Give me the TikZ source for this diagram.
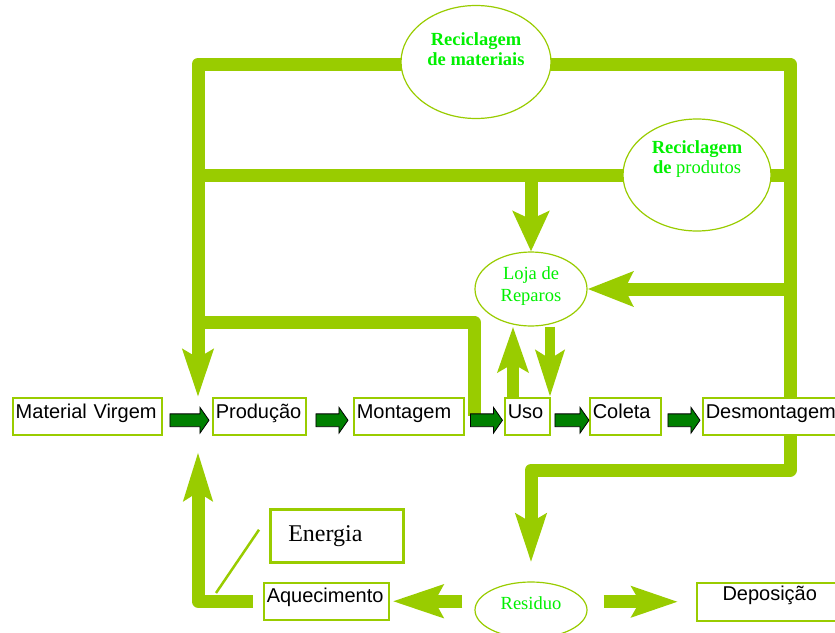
\documentclass[tikz,border=0pt]{standalone}
\usepackage{fontspec}
\setmainfont{Liberation Serif}
\setsansfont{Liberation Sans}
\usetikzlibrary{arrows.meta,shapes.geometric,shapes.arrows,calc}
\definecolor{lime}{RGB}{153,204,0}
\definecolor{leaf}{RGB}{0,240,0}
\definecolor{darkleaf}{RGB}{0,128,0}
\pgfdeclarelayer{back}
\pgfsetlayers{back,main}

\begin{document}
\begin{tikzpicture}[x=1pt,y=-1pt,
  flow/.style={draw=lime, line width=13pt, line join=round},
  head/.style 2 args={-{Stealth[length=#1, width=#2, inset=8pt]}},
  stage/.style={draw=lime, line width=1.5pt, fill=white, anchor=north west,
    inner xsep=3pt, inner ysep=0pt, align=left,
    font=\sffamily\fontsize{20}{22}\selectfont, text height=21pt, text depth=16pt},
  ring/.style={ellipse, draw=lime, line width=1.2pt, fill=white, inner sep=0pt},
  lab/.style={text=leaf, align=center, inner sep=0pt},
  blk/.style={single arrow, draw=black, fill=darkleaf, line width=0.8pt,
    minimum height=32pt, inner xsep=0pt, inner ysep=6pt, single arrow head extend=6.5pt,
    single arrow tip angle=110, yshift=-4pt},
  tie/.style={draw=lime, line width=2.5pt}
]
\useasboundingbox (0,0) rectangle (835,632);
\clip (0,0) rectangle (835,632);

% process stages
\node[stage, text width=143pt] (mv) at (12,397) {Material Virgem};
\node[stage, text width=87pt] (prod) at (212,397) {Produção};
\node[stage, text width=104pt] (mont) at (353,397) {Montagem};
\node[stage, text width=39pt] (uso) at (504,397) {Uso};
\node[stage, text width=65pt] (col) at (589,397) {Coleta};
\node[stage, text width=144pt] (desm) at (702,397) {Desmontagem};
\node[stage, text width=119pt, text height=20pt, text depth=17pt] (aq) at (263,582) {Aquecimento};
\node[stage, text width=140pt, align=center, text height=18pt, text depth=20pt] (dep) at (696,582) {Deposição};
\node[stage, line width=2.5pt, inner xsep=18pt, text width=97pt,
  font=\fontsize{24}{26}\selectfont, text height=32pt, text depth=21pt] (en) at (269,508) {Energia};

% recovery loops
\node[ring, minimum width=150pt, minimum height=113pt] (rm) at (476,62) {};
\node[lab, font=\bfseries\fontsize{18.5}{20}\selectfont] (rm-t) at ([yshift=13pt]rm.center) {Reciclagem\\de materiais};
\node[ring, minimum width=148pt, minimum height=112pt] (rp) at (697,175) {};
\node[lab, font=\fontsize{18.5}{20}\selectfont] (rp-t) at ([yshift=16pt]rp.center) {\textbf{Reciclagem}\\\textbf{de} produtos};
\node[ring, minimum width=112pt, minimum height=74pt] (loja) at (531,289) {};
\node[lab, font=\fontsize{18.5}{22}\selectfont] (loja-t) at ([yshift=3pt]loja.center) {Loja de\\Reparos};
\node[ring, minimum width=112pt, minimum height=56pt] (res) at (531,610) {};
\node[lab, font=\fontsize{18.5}{20}\selectfont] (res-t) at ([yshift=7pt]res.center) {Residuo};

% forward chain
\path (mv.east) -- (prod.west) node[midway, blk, minimum height=39pt] {};
\path (prod.east) -- (mont.west) node[midway, blk] {};
\path (mont.east) -- (uso.west) node[midway, blk] {};
\path (uso.east) -- (col.west) node[midway, blk, minimum height=34pt] {};
\path (col.east) -- (desm.west) node[midway, blk] {};

\begin{pgfonlayer}{back}
\coordinate (tl) at (198,64);
\coordinate (tr) at (790,64);
\coordinate (br) at (790,470);
\coordinate (c1) at (198,322);
\coordinate (c2) at (474,322);
\coordinate (xup) at (513,0);
\coordinate (xdn) at (550,0);
\coordinate (up) at (198,452);
\coordinate (ej) at (216,593);

\draw[flow, head={47pt}{30pt}] (desm.north -| tr) -- (tr) -- (tl) -- (prod.north -| tl);
\draw[flow] (tr |- rp) -- (tl |- rp);
\draw[flow, head={40pt}{36pt}] (loja.north |- rp) -- (loja.north);
\draw[flow] (c1) -- (c2) -- (c2 |- uso.west);
\draw[flow, head={45pt}{34pt}] (tr |- loja) -- (loja.east);
\draw[flow, line width=12pt, head={45pt}{30pt}] (uso.north -| xup) -- (loja.south -| xup);
\draw[flow, line width=10pt, head={46pt}{28pt}] (loja.south -| xdn) -- (uso.north -| xdn);
\draw[flow, head={48pt}{30pt}, shorten >=19pt] (desm.south -| tr) -- (br) -| (res.north);
\draw[flow, head={50pt}{32pt}, shorten <=12pt, shorten >=3pt] (res.west |- aq.east) -- (aq.east);
\draw[flow, head={46pt}{30pt}, shorten <=16pt, shorten >=18pt] (res.east |- dep.west) -- (dep.west);
\draw[flow, head={48pt}{28pt}, shorten <=10pt] (aq.west) -- (tl |- aq.west) -- (up);
\draw[tie] ($(en.west)+(-10,-6)$) -- (ej);
\end{pgfonlayer}
\end{tikzpicture}
\end{document}
